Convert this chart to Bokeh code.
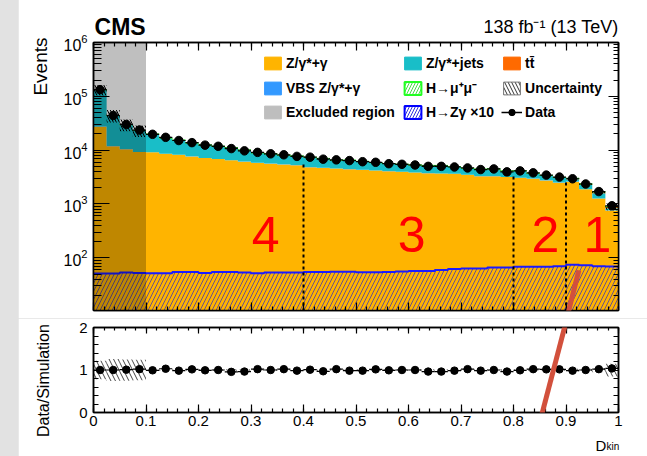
import numpy as np
from math import pi
from bokeh.plotting import figure
from bokeh.models import (Range1d, LogAxis, LinearAxis, FixedTicker, LogTicker, Label,
                          Legend, LegendItem, Arrow)
from bokeh.layouts import column
from bokeh.core.properties import value
from bokeh.embed import file_html
from bokeh.resources import INLINE

FONT = "Liberation Sans"

# ---------------- data ----------------
n_bins = 40
data = [133000, 44000, 30000, 23600, 19700, 17300, 15100, 13800, 12400, 11800,
        10700, 9700, 9100, 8550, 8200, 7660, 7400, 6800, 6600, 6400,
        6100, 5950, 5600, 5460, 5300, 5000, 5000, 4870, 4670, 4360,
        4480, 3950, 4120, 3790, 3440, 3160, 2940, 2350, 1700, 927]
zgamma = [27200, 11800, 10400, 9200, 9100, 8550, 8200, 7650, 7130, 6840,
          6470, 6100, 5770, 5610, 5420, 5250, 4820, 4680, 4540, 4420,
          4300, 4170, 4060, 3950, 3840, 3730, 3670, 3630, 3480, 3290,
          3290, 3160, 3060, 2940, 2740, 2480, 2590, 1870, 1260, 760]
vbs = [300, 150, 100, 80, 60, 55, 50, 48, 45, 43, 41, 39, 37, 35, 34, 33, 32, 31, 30, 29,
       28, 27, 26, 25, 25, 24, 24, 23, 22, 22, 21, 20, 20, 19, 18, 17, 16, 14, 11, 7]
zjets = [104000, 31200, 18800, 13560, 10620, 8130, 7020, 5840, 5270, 4870,
         4630, 3880, 3060, 2850, 2540, 2450, 2450, 2250, 1850, 2000,
         1810, 1610, 1500, 1430, 1380, 1390, 1450, 1240, 1030, 1070,
         1120, 870, 1020, 710, 570, 540, 285, 365, 310, 67]
ttbar = [1500, 900, 500, 300, 60, 60, 60, 60, 50, 50, 50, 50, 50, 50, 50, 50, 50, 50, 50, 50,
         50, 50, 50, 50, 50, 50, 50, 50, 50, 50, 50, 50, 50, 50, 60, 70, 90, 100, 90, 60]
hmumu = [6, 5, 5, 4, 4, 4, 4, 4, 4, 4, 4, 4, 4, 4, 4, 4, 4, 4, 4, 4,
         4, 4, 4, 4, 4, 4, 4, 4, 4, 4, 4, 4, 4, 4, 4, 4, 4, 4, 3, 3]
hzg_x10 = [51, 51, 53.6, 52.5, 51.4, 51.4, 54.3, 54.3, 52.5, 54.3,
           54.3, 53.6, 51.4, 53.6, 53.6, 53.6, 54.3, 54.3, 55, 55,
           54, 54, 54.6, 55.8, 57, 57, 59.5, 62, 63, 63,
           66, 66, 68.3, 68.3, 68.3, 70, 74, 73, 70, 69]
ratio_vals = [1.0, 1.0, 1.007, 1.02, 0.993, 1.03, 0.985, 1.015, 0.993, 1.0,
              0.956, 0.963, 1.02, 1.0, 1.02, 0.985, 1.007, 0.97, 1.02, 0.985,
              0.985, 1.015, 0.993, 1.0, 1.0, 0.963, 0.963, 0.985, 1.02, 0.985,
              1.0, 0.963, 0.993, 1.02, 1.015, 1.015, 0.985, 1.0, 1.02, 1.037]
rel_unc = [0.22, 0.26, 0.25, 0.24, 0.02, 0.02, 0.02, 0.02, 0.02, 0.02,
           0.02, 0.02, 0.02, 0.02, 0.02, 0.02, 0.02, 0.02, 0.02, 0.02,
           0.02, 0.02, 0.02, 0.02, 0.02, 0.02, 0.02, 0.02, 0.02, 0.02,
           0.02, 0.02, 0.02, 0.02, 0.02, 0.02, 0.03, 0.03, 0.05, 0.15]
category_bounds = [0.4, 0.8, 0.9]
category_line_tops = [6000, 3400, 2600]
category_names = ["4", "3", "2", "1"]
category_label_x = [0.328, 0.606, 0.861, 0.96]
category_label_y = [275, 275, 275, 275]
excluded = (0.0, 0.1)
x_ticks = [0, 0.1, 0.2, 0.3, 0.4, 0.5, 0.6, 0.7, 0.8, 0.9, 1]
x_tick_labels = ["0", "0.1", "0.2", "0.3", "0.4", "0.5", "0.6", "0.7", "0.8", "0.9", "1"]

# ---------------- derived ----------------
edges = np.linspace(0.0, 1.0, n_bins + 1)
lo, hi = edges[:-1], edges[1:]
ctr = 0.5 * (lo + hi)
layers = [np.array(zgamma, float), np.array(vbs, float), np.array(zjets, float),
          np.array(ttbar, float), np.array(hmumu, float)]
cum = np.cumsum(np.vstack(layers), axis=0)
mc_total = cum[-1]
unc = np.array(rel_unc)
step_x = list(edges)


def ext(a):
    a = list(a)
    return a + [a[-1]]


Y_MIN, Y_MAX = 10.5, 1.0e6
W = 629
C_ZG, C_VBS, C_ZJ, C_TT = "#ffb400", "#3399ff", "#19bec8", "#ff6a00"

main = figure(width=W, height=322, y_axis_type="log",
              x_range=Range1d(0, 1), y_range=Range1d(Y_MIN, Y_MAX),
              output_backend="svg", toolbar_location=None,
              min_border_left=75, min_border_right=29, min_border_top=33, min_border_bottom=8)
main.margin = (-4, 0, 0, 18)
main.grid.visible = False
main.outline_line_color = "black"
main.outline_line_width = 1.5
main.background_fill_color = "white"
main.border_fill_color = "white"

floor = 1.0
fills = [C_ZG, C_VBS, C_ZJ, C_TT]
for i, col in enumerate(fills):
    bottom = cum[i - 1] if i > 0 else np.full(n_bins, floor)
    main.varea_step(x=step_x, y1=ext(bottom), y2=ext(cum[i]), step_mode="after",
                    fill_color=col)
# H->mumu (tiny, hatched, on top)
main.quad(left=lo, right=hi, bottom=cum[3], top=cum[4], fill_color=None,
          hatch_pattern="/", hatch_color="#22cc22", hatch_scale=6,
          line_color="#33ee33", line_width=1)

# H->Zgamma x10 (hatched overlay from the bottom)
hzg = np.array(hzg_x10)
main.varea_step(x=step_x, y1=ext(np.full(n_bins, floor)), y2=ext(hzg), step_mode="after",
                fill_color=None, fill_alpha=0, hatch_pattern="/", hatch_color="#3030c0",
                hatch_alpha=0.75, hatch_scale=8, hatch_weight=1)
main.step(x=step_x, y=ext(hzg), mode="after", line_color="#1a1aff", line_width=2)

# uncertainty band
main.quad(left=lo, right=hi, bottom=mc_total * (1 - unc), top=mc_total * (1 + unc),
          fill_color=None, line_color=None, hatch_pattern="\\", hatch_color="black",
          hatch_scale=6, hatch_weight=1)

# excluded region
main.quad(left=[excluded[0]], right=[excluded[1]], bottom=[floor], top=[1e7],
          fill_color="black", fill_alpha=0.25, line_color=None)

# category boundaries
main.segment(x0=category_bounds, y0=[floor] * 3, x1=category_bounds, y1=category_line_tops,
             line_color="black", line_width=2, line_dash="3 3")
main.text(x=category_label_x, y=category_label_y, text=category_names,
          text_color="#ff0000", text_font=value(FONT), text_font_size="50px",
          text_align="center", text_baseline="middle")

# data
main.segment(x0=lo, y0=data, x1=hi, y1=data, line_color="black", line_width=1.2)
main.scatter(ctr, data, size=8.5, color="black")


def style_axis(ax, tin, tmin, show_labels, size="16px"):
    ax.axis_line_width = 1.5
    ax.axis_line_color = "black"
    ax.major_tick_in = tin
    ax.major_tick_out = 0
    ax.minor_tick_in = tmin
    ax.minor_tick_out = 0
    ax.major_tick_line_width = 1.2
    ax.minor_tick_line_width = 1.2
    ax.major_label_text_font = FONT
    ax.major_label_text_color = "black"
    if show_labels:
        ax.major_label_text_font_size = size
    else:
        ax.major_label_text_font_size = "1px"
        ax.major_label_text_alpha = 0
        ax.major_label_standoff = 0


xt = FixedTicker(ticks=x_ticks, minor_ticks=list(np.round(np.arange(0, 1.0001, 0.02), 2)))
main.xaxis.ticker = xt
style_axis(main.xaxis[0], 8, 4, False)
style_axis(main.yaxis[0], 16, 8, True, "16px")
main.yaxis[0].major_label_standoff = 6
main.yaxis[0].ticker = LogTicker(num_minor_ticks=10)

ax_top = LinearAxis(ticker=xt)
style_axis(ax_top, 8, 4, False)
main.add_layout(ax_top, "above")
ax_right = LogAxis(ticker=LogTicker(num_minor_ticks=10))
style_axis(ax_right, 10, 5, False)
main.add_layout(ax_right, "right")

ARROW_COLOR = "#d2503c"
main.add_layout(Label(x=0.002, y=1.95e6, text="CMS", text_font=FONT, text_font_style="bold",
                      text_font_size="23px", text_color="black", text_align="left",
                      text_baseline="alphabetic"), "above")
main.add_layout(Label(x=1.0, y=1.95e6, text="138 fb⁻¹ (13 TeV)", text_font=FONT,
                      text_font_size="18px", text_color="black", text_align="right",
                      text_baseline="alphabetic"), "above")
main.add_layout(Label(x=-0.101, y=1.24e6, text="Events", text_font=FONT, text_font_size="19px",
                      text_color="black", angle=pi / 2, text_align="right",
                      text_baseline="middle"), "left")
main.add_layout(Arrow(end=None, x_start=0.9244, y_start=58.3, x_end=0.9015, y_end=7.5,
                      line_color=ARROW_COLOR, line_width=5))

# legend proxies: a single swatch sample each, placed outside the visible x range
OFF = dict(left=[-2.0], right=[-1.9], bottom=[2.0], top=[3.0])


def proxy(**kw):
    return main.quad(**OFF, **kw)


lg_zg = proxy(fill_color=C_ZG, line_color=C_ZG)
lg_zj = proxy(fill_color=C_ZJ, line_color=C_ZJ)
lg_tt = proxy(fill_color=C_TT, line_color=C_TT)
lg_vbs = proxy(fill_color=C_VBS, line_color=C_VBS)
lg_hmm = proxy(fill_color=None, hatch_pattern="/", hatch_color="#44dd44", hatch_scale=6,
               line_color="#22ff22", line_width=2)
lg_unc = proxy(fill_color=None, hatch_pattern="\\", hatch_color="#333333", hatch_scale=7,
               line_color="#777777", line_width=1)
lg_exc = proxy(fill_color="#bebebe", line_color="#bebebe")
lg_hzg = proxy(fill_color=None, hatch_pattern="/", hatch_color="#3333dd", hatch_scale=6,
               line_color="#0000ff", line_width=2)
lg_dseg = main.segment(x0=[-2.0], y0=[2.0], x1=[-1.9], y1=[2.0], line_color="black",
                       line_width=1.5)
lg_dpt = main.scatter(x=[-2.0], y=[2.0], size=8, color="black")

items = [
    LegendItem(label="Z/γ*+γ", renderers=[lg_zg]),
    LegendItem(label="Z/γ*+jets", renderers=[lg_zj]),
    LegendItem(label="tt̄", renderers=[lg_tt]),
    LegendItem(label="VBS Z/γ*+γ", renderers=[lg_vbs]),
    LegendItem(label="H→μ⁺μ⁻", renderers=[lg_hmm]),
    LegendItem(label="Uncertainty", renderers=[lg_unc]),
    LegendItem(label="Excluded region", renderers=[lg_exc]),
    LegendItem(label="H→Zγ ×10", renderers=[lg_hzg]),
    LegendItem(label="Data", renderers=[lg_dseg, lg_dpt]),
]
legend = Legend(items=items, orientation="horizontal", ncols=3, location=(169, 190),
                glyph_width=21, glyph_height=16, label_height=16,
                label_text_font=FONT, label_text_font_style="bold", label_text_font_size="14px",
                label_text_color="black",
                spacing=7, padding=0, margin=0, label_standoff=3,
                background_fill_alpha=0, border_line_alpha=0)
main.add_layout(legend)

# ---------------- ratio panel ----------------
ratio = figure(width=W, height=138, x_range=main.x_range, y_range=Range1d(0, 2),
               output_backend="svg", toolbar_location=None,
               min_border_left=75, min_border_right=29, min_border_top=9, min_border_bottom=39)
ratio.margin = (0, 0, 0, 18)
ratio.grid.visible = False
ratio.outline_line_color = "black"
ratio.outline_line_width = 1.5
ratio.border_fill_color = "white"

ratio.quad(left=lo, right=hi, bottom=1 - unc, top=1 + unc, fill_color=None, line_color=None,
           hatch_pattern="\\", hatch_color="#444444", hatch_scale=9, hatch_weight=1)
ratio.segment(x0=lo, y0=ratio_vals, x1=hi, y1=ratio_vals, line_color="black", line_width=1.2)
ratio.scatter(ctr, ratio_vals, size=7.5, color="black")

ratio.xaxis.ticker = xt
style_axis(ratio.xaxis[0], 8, 4, True, "15px")
ratio.xaxis[0].major_label_standoff = 3
ratio.xaxis[0].major_label_overrides = {t: s for t, s in zip(x_ticks, x_tick_labels)}
yt = FixedTicker(ticks=[0, 1, 2], minor_ticks=[0.2, 0.4, 0.6, 0.8, 1.2, 1.4, 1.6, 1.8])
ratio.yaxis.ticker = yt
style_axis(ratio.yaxis[0], 9, 5, True, "15px")
ratio.yaxis[0].major_label_standoff = 6
r_top = LinearAxis(ticker=xt)
style_axis(r_top, 6, 3, False)
ratio.add_layout(r_top, "above")
r_right = LinearAxis(ticker=yt)
style_axis(r_right, 9, 5, False)
ratio.add_layout(r_right, "right")

ratio.add_layout(Label(x=-0.095, y=2.08, text="Data/Simulation", text_font=FONT,
                       text_font_size="16px", text_color="black", angle=pi / 2,
                       text_align="right", text_baseline="middle"), "left")
ratio.add_layout(Label(x=0.977, y=-0.77, text="D", text_font=FONT, text_font_size="15px",
                       text_color="black", text_align="right", text_baseline="alphabetic"),
                 "below")
ratio.add_layout(Label(x=0.977, y=-0.81, text="kin", text_font=FONT, text_font_size="10px",
                       text_color="black", text_align="left", text_baseline="alphabetic"),
                 "below")
ratio.add_layout(Arrow(end=None, x_start=0.9015, y_start=2.2, x_end=0.8366, y_end=-0.867,
                       line_color=ARROW_COLOR, line_width=5))

layout = column(main, ratio, styles={"background-color": "#e2e2e2"}, spacing=0)
open("out.html", "w").write(file_html(layout, INLINE))
